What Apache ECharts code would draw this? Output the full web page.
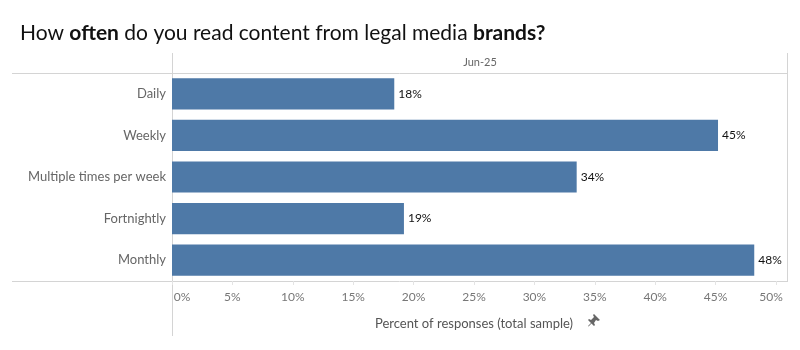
<!DOCTYPE html>
<html>
<head>
<meta charset="utf-8">
<script src="https://cdn.jsdelivr.net/npm/echarts@6/dist/echarts.min.js"></script>
<style>
  html, body { margin: 0; padding: 0; background: #fff; }
  #chart { width: 800px; height: 350px; }
</style>
</head>
<body>
<div id="chart"></div>
<script>
// 数据
var categories = ['Daily', 'Weekly', 'Multiple times per week', 'Fortnightly', 'Monthly'];
var values = [18.4, 45.2, 33.5, 19.2, 48.2];
var xTicks = [0, 5, 10, 15, 20, 25, 30, 35, 40, 45, 50];
var headerLabel = 'Jun-25';

var chart = echarts.init(document.getElementById('chart'));
var lineColor = '#d4d4d4';
var font = 'Lato, "Open Sans", sans-serif';

var option = {
  animation: false,
  textStyle: { fontFamily: font },
  title: {
    left: 15,
    top: 18,
    text: '{n|How }{b|often}{n| do you read content from legal media }{b|brands?}',
    textStyle: {
      fontWeight: 'normal',
      rich: {
        n: { fontSize: 21, color: '#111', fontWeight: 'normal', fontFamily: font },
        b: { fontSize: 21, color: '#111', fontWeight: 'bold', fontFamily: font }
      }
    }
  },
  grid: { left: 172, right: 24, top: 73, bottom: 69 },
  xAxis: {
    type: 'value',
    min: xTicks[0],
    max: xTicks[xTicks.length - 1],
    interval: 5,
    axisLine: { show: false },
    splitLine: { show: false },
    axisTick: { show: true, length: 4, lineStyle: { color: '#e4e4e4' } },
    axisLabel: {
      color: '#777',
      fontSize: 12,
      margin: 10,
      formatter: function (v) {
        if (v === 0) return '{l|0%}';
        if (v === 50) return '{r|50%}';
        return v + '%';
      },
      rich: {
        l: { color: '#777', fontSize: 12, padding: [0, 0, 0, 20] },
        r: { color: '#777', fontSize: 12, padding: [0, 10, 0, 0] }
      }
    },
    name: 'Percent of responses (total sample)',
    nameLocation: 'middle',
    nameGap: 36,
    nameTextStyle: { color: '#555', fontSize: 13 }
  },
  yAxis: {
    type: 'category',
    data: categories,
    inverse: true,
    axisLine: { show: false },
    axisTick: { show: false },
    axisLabel: { color: '#666', fontSize: 13, margin: 6 }
  },
  series: [{
    type: 'bar',
    data: values,
    barCategoryGap: '25%',
    itemStyle: { color: '#4e79a7' },
    label: {
      show: true,
      position: 'right',
      distance: 4,
      color: '#111',
      fontSize: 12,
      formatter: function (p) { return Math.round(p.value) + '%'; }
    }
  }],
  graphic: [
    { type: 'line', shape: { x1: 12, y1: 73.5, x2: 787, y2: 73.5 }, style: { stroke: lineColor, lineWidth: 1 } },
    { type: 'line', shape: { x1: 12, y1: 281.5, x2: 787, y2: 281.5 }, style: { stroke: lineColor, lineWidth: 1 } },
    { type: 'line', shape: { x1: 172.5, y1: 53, x2: 172.5, y2: 336 }, style: { stroke: lineColor, lineWidth: 1 } },
    { type: 'line', shape: { x1: 787.5, y1: 53, x2: 787.5, y2: 282 }, style: { stroke: lineColor, lineWidth: 1 } },
    { type: 'text', x: 480, y: 62, style: { text: headerLabel, fill: '#666', fontSize: 11, fontFamily: font, align: 'center', verticalAlign: 'middle' } },
    // 图钉图标
    { type: 'polygon', x: 588, y: 314, shape: { points: [[6, 0], [12, 6], [10, 7], [8, 6], [6, 9], [7, 11], [6, 12], [3.5, 9.5], [0.5, 12.5], [0, 12], [3, 9], [0, 6], [1, 5], [3, 6], [6, 3], [5, 1]] }, style: { fill: '#666' } }
  ]
};

chart.setOption(option);
</script>
</body>
</html>
